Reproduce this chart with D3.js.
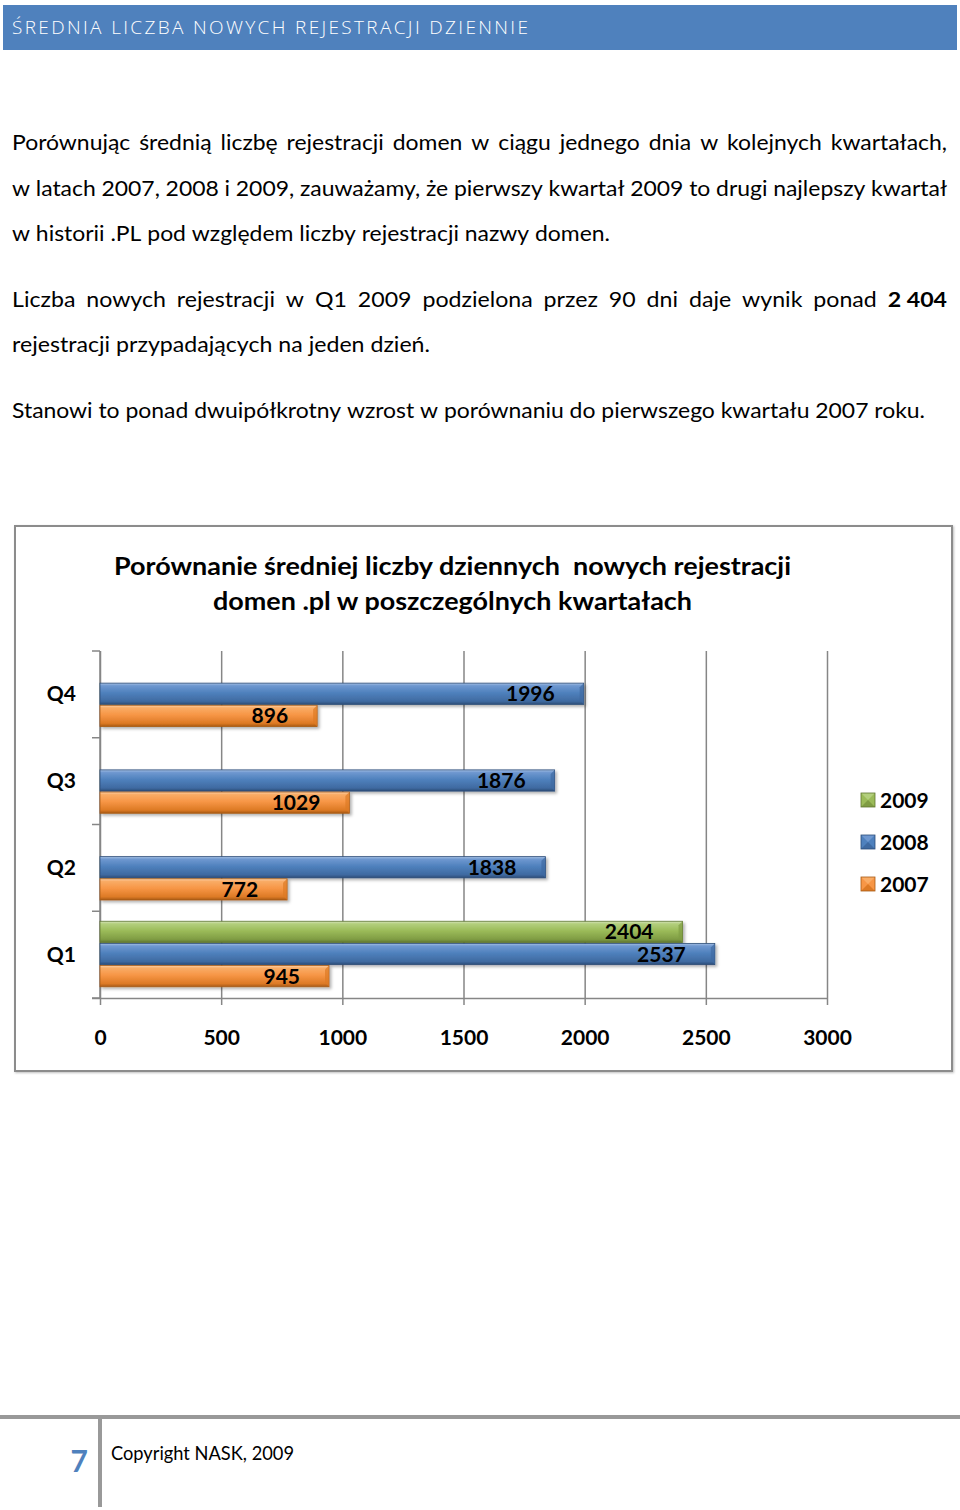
<!DOCTYPE html>
<html><head><meta charset="utf-8">
<script src="https://cdn.jsdelivr.net/npm/d3@7"></script>
<style>
html,body{margin:0;padding:0;background:#fff;}
svg{display:block;}
</style></head>
<body>
<svg id="page" width="960" height="1510"></svg>
<script>
// ---------- DATA ----------
const categories = ["Q4", "Q3", "Q2", "Q1"];
const seriesNames = ["2009", "2008", "2007"];
const values2009 = [null, null, null, 2404];
const values2008 = [1996, 1876, 1838, 2537];
const values2007 = [896, 1029, 772, 945];
const xTickValues = [0, 500, 1000, 1500, 2000, 2500, 3000];
const headerText = "ŚREDNIA LICZBA NOWYCH REJESTRACJI DZIENNIE";
const chartTitle = ["Porównanie średniej liczby dziennych  nowych rejestracji", "domen .pl w poszczególnych kwartałach"];
const para1 = [
  "Porównując średnią liczbę rejestracji domen w ciągu jednego dnia w kolejnych kwartałach,",
  "w latach 2007, 2008 i 2009, zauważamy, że pierwszy kwartał 2009 to drugi najlepszy kwartał",
  "w historii .PL pod względem liczby rejestracji nazwy domen."
];
const para2 = [
  "Liczba nowych rejestracji w Q1 2009 podzielona przez 90 dni daje wynik ponad **2\u00a0404**",
  "rejestracji przypadających na jeden dzień."
];
const para3 = ["Stanowi to ponad dwuipółkrotny wzrost w porównaniu do pierwszego kwartału 2007 roku."];
const footerText = "Copyright NASK, 2009";
const pageNumber = "7";

const series = [
  {name: "2009", values: values2009, c: ["#d7e4bd", "#b3cf7d", "#9bbb59", "#7f9c43", "#5f7530"]},
  {name: "2008", values: values2008, c: ["#a7c1e4", "#6f98d0", "#4f81bd", "#3f6aa1", "#2c4d78"]},
  {name: "2007", values: values2007, c: ["#fcd1a8", "#f9ac66", "#f79646", "#dd7a25", "#a85a14"]}
];

const svg = d3.select("#page");
const defs = svg.append("defs");
const TEXT_FONT = "Lato, 'Open Sans', sans-serif";

// ---------- HEADER ----------
svg.append("rect").attr("x", 3).attr("y", 5).attr("width", 954).attr("height", 45).attr("fill", "#4f81bd");
svg.append("text").attr("x", 12).attr("y", 34)
  .attr("font-family", "'Open Sans', sans-serif").attr("font-weight", 300).attr("font-size", 19)
  .attr("fill", "#fff").attr("textLength", 516).attr("lengthAdjust", "spacing")
  .text(headerText);

// ---------- BODY TEXT ----------
function measure(str, bold, size) {
  const t = svg.append("text").attr("font-family", TEXT_FONT).attr("font-size", size)
    .attr("font-weight", bold ? "bold" : "normal").text(str);
  const w = t.node().getComputedTextLength();
  t.remove();
  return w;
}
function tokens(line) {
  return line.split(" ").filter(s => s.length).map(w => {
    const bold = /^\*\*.*\*\*$/.test(w);
    return {s: bold ? w.slice(2, -2) : w, bold};
  });
}
function natural(line, size) {
  const tk = tokens(line);
  const sp = measure("a a", false, size) - measure("aa", false, size);
  return tk.reduce((a, t) => a + measure(t.s, t.bold, size), 0) + sp * (tk.length - 1);
}
function drawLine(line, x0, x1, y, size, scale, justify) {
  const tk = tokens(line);
  const sp = measure("a a", false, size) - measure("aa", false, size);
  tk.forEach(t => t.w = measure(t.s, t.bold, size) * scale);
  const sum = d3.sum(tk, t => t.w);
  const gap = justify ? (x1 - x0 - sum) / (tk.length - 1) : sp * scale;
  let x = x0;
  tk.forEach(t => {
    svg.append("text").attr("x", x).attr("y", y)
      .attr("font-family", TEXT_FONT).attr("font-size", size)
      .attr("font-weight", t.bold ? "bold" : "normal").attr("fill", "#000")
      .attr("textLength", t.w).attr("lengthAdjust", "spacingAndGlyphs").text(t.s);
    x += t.w + gap;
  });
}
const FS = 21;
let s1 = (610 - 12) / natural(para1[2], FS);
drawLine(para1[0], 12, 947, 150, FS, s1, true);
drawLine(para1[1], 12, 947, 196, FS, s1, true);
drawLine(para1[2], 12, 610, 241, FS, s1, false);
let s2 = (430 - 12) / natural(para2[1], FS);
drawLine(para2[0], 12, 947, 307, FS, s2, true);
drawLine(para2[1], 12, 430, 352, FS, s2, false);
let s3 = (925 - 12) / natural(para3[0], FS);
drawLine(para3[0], 12, 925, 418, FS, s3, false);

// ---------- CHART BOX ----------
const sh = defs.append("filter").attr("id", "boxsh").attr("x", "-5%").attr("y", "-5%").attr("width", "110%").attr("height", "110%");
sh.append("feDropShadow").attr("dx", 1).attr("dy", 1).attr("stdDeviation", 1).attr("flood-color", "#000").attr("flood-opacity", 0.25);
svg.append("rect").attr("x", 15).attr("y", 526).attr("width", 937).attr("height", 545)
  .attr("fill", "#fff").attr("stroke", "#8c8c8c").attr("stroke-width", 2).attr("filter", "url(#boxsh)");

const titleW = [677, 479];
chartTitle.forEach((t, i) => {
  svg.append("text").attr("x", 452.5).attr("y", 575 + i * 35).attr("text-anchor", "middle")
    .attr("font-family", TEXT_FONT).attr("font-weight", "bold").attr("font-size", 25)
    .style("white-space", "pre")
    .attr("textLength", titleW[i]).attr("lengthAdjust", "spacingAndGlyphs").attr("fill", "#000")
    .text(t);
});

// ---------- SCALES ----------
const x = d3.scaleLinear().domain([0, 3000]).range([100, 827]);
const y0 = d3.scaleBand().domain(categories).range([651, 998]);
const y1 = d3.scaleBand().domain(seriesNames).range([10, 75.5]).paddingInner(0.04);
const AX = "#868686";

// grid lines
const grid = svg.append("g").attr("transform", "translate(0,998)")
  .call(d3.axisBottom(x).tickValues(xTickValues).tickSize(-(998 - 651)).tickFormat(""));
grid.select(".domain").remove();
grid.selectAll("line").attr("stroke", AX).attr("stroke-width", 1.5);
// bottom axis line and tick marks
const xa = svg.append("g").attr("transform", "translate(0,998)")
  .call(d3.axisBottom(x).tickValues(xTickValues).tickFormat(d3.format("d")).tickSize(7).tickSizeOuter(0).tickPadding(25));
xa.select(".domain").attr("stroke", AX).attr("stroke-width", 1.5).attr("d", "M92,0.5H827");
xa.selectAll("line").attr("stroke", AX).attr("stroke-width", 1.5);
xa.selectAll("text").attr("font-family", TEXT_FONT).attr("font-weight", "bold").attr("font-size", 21)
  .attr("fill", "#000").attr("dy", "0.72em");

// left axis
const bounds = categories.map(c => y0(c)).concat([998]);
svg.append("line").attr("x1", 100).attr("x2", 100).attr("y1", 651).attr("y2", 998).attr("stroke", AX).attr("stroke-width", 1.5);
svg.selectAll(".ytick").data(bounds).join("line").attr("class", "ytick")
  .attr("x1", 92).attr("x2", 100).attr("y1", d => d).attr("y2", d => d).attr("stroke", AX).attr("stroke-width", 1.5);
svg.selectAll(".ylab").data(categories).join("text").attr("class", "ylab")
  .attr("x", 76).attr("y", d => y0(d) + y0.bandwidth() / 2 + 7)
  .attr("text-anchor", "end")
  .attr("font-family", TEXT_FONT).attr("font-weight", "bold").attr("font-size", 21).attr("fill", "#000")
  .text(d => d);

// ---------- BARS ----------
const bsh = defs.append("filter").attr("id", "barsh").attr("x", "-5%").attr("y", "-30%").attr("width", "115%").attr("height", "180%");
bsh.append("feDropShadow").attr("dx", 2).attr("dy", 2).attr("stdDeviation", 1.5).attr("flood-color", "#000").attr("flood-opacity", 0.3);
series.forEach(s => {
  const g = defs.append("linearGradient").attr("id", "g" + s.name).attr("x1", 0).attr("y1", 0).attr("x2", 0).attr("y2", 1);
  [[0, 0], [0.12, 1], [0.45, 2], [0.85, 3], [1, 4]].forEach(([o, i]) =>
    g.append("stop").attr("offset", o).attr("stop-color", s.c[i]));
});
const barG = svg.append("g");
series.forEach(s => {
  const data = categories.map((c, i) => ({c, v: s.values[i]})).filter(d => d.v != null);
  const gg = barG.append("g");
  gg.selectAll("rect").data(data).join("rect")
    .attr("x", x(0)).attr("y", d => y0(d.c) + y1(s.name))
    .attr("width", d => x(d.v) - x(0)).attr("height", y1.bandwidth())
    .attr("fill", "url(#g" + s.name + ")").attr("stroke", s.c[4]).attr("stroke-width", 0.8)
    .attr("filter", "url(#barsh)");
  gg.selectAll("path.bev").data(data).join("path").attr("class", "bev")
    .attr("d", d => {
      const x1 = x(d.v), yt = y0(d.c) + y1(s.name), h = y1.bandwidth();
      return `M${x1},${yt}L${x1 - 4},${yt + 4}L${x1 - 4},${yt + h - 4}L${x1},${yt + h}Z`;
    }).attr("fill", s.c[3]).attr("opacity", 0.7);
  gg.selectAll("text").data(data).join("text")
    .attr("x", d => x(d.v) - 29).attr("y", d => y0(d.c) + y1(s.name) + y1.bandwidth() / 2 + 7.5)
    .attr("text-anchor", "end").attr("font-family", TEXT_FONT).attr("font-weight", "bold")
    .attr("font-size", 21).attr("fill", "#000").text(d => d.v);
});

// ---------- LEGEND ----------
const legY = [793, 835, 877];
series.forEach((s, i) => {
  const lx = 861, ly = legY[i], w = 14;
  const lg = svg.append("g");
  lg.append("rect").attr("x", lx).attr("y", ly).attr("width", w).attr("height", w).attr("fill", s.c[2]);
  const cx = lx + w / 2, cy = ly + w / 2;
  lg.append("path").attr("d", `M${lx},${ly}L${lx + w},${ly}L${cx},${cy}Z`).attr("fill", s.c[1]);
  lg.append("path").attr("d", `M${lx},${ly + w}L${lx + w},${ly + w}L${cx},${cy}Z`).attr("fill", s.c[3]);
  lg.append("rect").attr("x", lx).attr("y", ly).attr("width", w).attr("height", w).attr("fill", "none").attr("stroke", s.c[4]).attr("stroke-width", 0.8);
  lg.append("text").attr("x", 880).attr("y", ly + w / 2 + 7.5)
    .attr("font-family", TEXT_FONT).attr("font-weight", "bold").attr("font-size", 21).attr("fill", "#000")
    .text(s.name);
});

// ---------- FOOTER ----------
svg.append("rect").attr("x", 0).attr("y", 1415).attr("width", 960).attr("height", 4).attr("fill", "#999");
svg.append("rect").attr("x", 98).attr("y", 1415).attr("width", 4).attr("height", 92).attr("fill", "#999");
svg.append("text").attr("x", 88).attr("y", 1472).attr("text-anchor", "end")
  .attr("font-family", TEXT_FONT).attr("font-weight", "bold").attr("font-size", 30).attr("fill", "#4f81bd")
  .text(pageNumber);
svg.append("text").attr("x", 111).attr("y", 1460)
  .attr("font-family", TEXT_FONT).attr("font-size", 19).attr("fill", "#000")
  .attr("textLength", 183).attr("lengthAdjust", "spacingAndGlyphs").text(footerText);
</script>
</body></html>
